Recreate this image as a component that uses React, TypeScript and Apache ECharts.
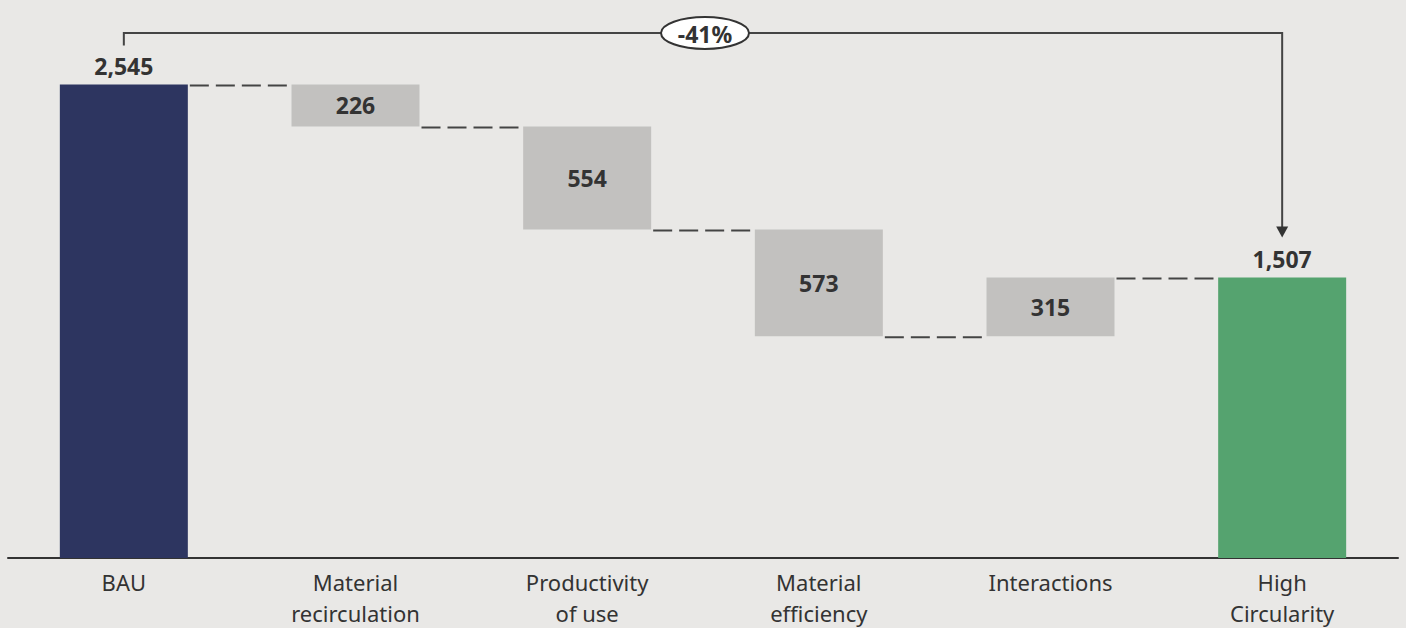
import React, { useEffect, useRef } from "react";
import * as echarts from "echarts";

// Waterfall: BAU total, four contributions, High Circularity total
const categories = [
  "BAU",
  "Material\nrecirculation",
  "Productivity\nof use",
  "Material\nefficiency",
  "Interactions",
  "High\nCircularity",
];
const startTotal = 2545;
const changes = [-226, -554, -573, 315];
const endTotal = 1507;
const changeLabel = "-41%";

const NAVY = "#2d3560";
const GREEN = "#55a36f";
const GREY = "#c2c1bf";
const TEXT = "#333333";
const BG = "#e9e8e6";
const FONT = "'Noto Sans', sans-serif";
const BAR_W = 128;

export default function App() {
  const ref = useRef<HTMLDivElement>(null);

  useEffect(() => {
    if (!ref.current) return;
    document.body.style.background = BG;
    const chart = echarts.init(ref.current, undefined, { renderer: "svg" });

    // running levels after each step (the connector heights)
    const levels: number[] = [startTotal];
    changes.forEach((c) => levels.push(levels[levels.length - 1] + c));

    const base: number[] = [0];
    const size: number[] = [startTotal];
    changes.forEach((c, i) => {
      base.push(Math.min(levels[i], levels[i + 1]));
      size.push(Math.abs(c));
    });
    base.push(0);
    size.push(endTotal);

    const last = categories.length - 1;
    const visibleData = size.map((v, i) => {
      const isTotal = i === 0 || i === last;
      return {
        value: v,
        itemStyle: { color: i === 0 ? NAVY : i === last ? GREEN : GREY },
        label: isTotal
          ? { position: "top", distance: 7 }
          : { position: "inside" },
      };
    });

    chart.setOption({
      animation: false,
      backgroundColor: BG,
      grid: { left: 8, right: 8, top: 37, bottom: 70, outerBoundsMode: "none", containLabel: false },
      xAxis: {
        type: "category",
        data: categories,
        axisTick: { show: false },
        axisLine: { lineStyle: { color: TEXT, width: 2 } },
        axisLabel: {
          color: TEXT,
          fontFamily: FONT,
          fontSize: 22,
          lineHeight: 31,
          margin: 8,
          interval: 0,
        },
      },
      yAxis: {
        type: "value",
        min: 0,
        max: 2800,
        show: false,
        splitLine: { show: false },
      },
      series: [
        {
          type: "bar",
          stack: "w",
          barWidth: BAR_W,
          data: base,
          itemStyle: { color: "transparent" },
          silent: true,
        },
        {
          type: "bar",
          stack: "w",
          barWidth: BAR_W,
          data: visibleData,
          label: {
            show: true,
            color: TEXT,
            fontFamily: FONT,
            fontWeight: "bold",
            fontSize: 23,
            formatter: (p: any) => Number(p.value).toLocaleString("en-US"),
          },
        },
        {
          type: "custom",
          data: levels.map((v, i) => [i, v]),
          encode: { x: 0, y: 1 },
          silent: true,
          z: 1,
          renderItem: (params: any, api: any) => {
            const i = api.value(0);
            const v = api.value(1);
            const a = api.coord([i, v]);
            const b = api.coord([i + 1, v]);
            return {
              type: "line",
              shape: { x1: a[0] + BAR_W / 2 + 2, y1: a[1] + 1, x2: b[0] - BAR_W / 2, y2: b[1] + 1 },
              style: { stroke: "#444444", lineWidth: 2, lineDash: [19, 7] },
            };
          },
        },
      ],
    });

    // bracket from BAU to High Circularity with the overall change
    const p0 = chart.convertToPixel({ gridIndex: 0 }, [0, startTotal]) as number[];
    const p1 = chart.convertToPixel({ gridIndex: 0 }, [last, endTotal]) as number[];
    const topY = 33;
    const legBottom = p0[1] - 39;
    const tipY = p1[1] - 40;
    const midX = (p0[0] + p1[0]) / 2 + 2;
    chart.setOption({
      graphic: [
        {
          type: "polyline",
          shape: {
            points: [
              [p0[0], legBottom],
              [p0[0], topY],
              [p1[0], topY],
              [p1[0], tipY - 10],
            ],
          },
          style: { stroke: "#444444", lineWidth: 2, fill: null },
        },
        {
          type: "polygon",
          shape: {
            points: [
              [p1[0] - 6, tipY - 11],
              [p1[0] + 6, tipY - 11],
              [p1[0], tipY],
            ],
          },
          style: { fill: "#333333" },
        },
        {
          type: "ellipse",
          shape: { cx: midX, cy: topY, rx: 44, ry: 16 },
          style: { fill: "#ffffff", stroke: TEXT, lineWidth: 2 },
        },
        {
          type: "text",
          x: midX,
          y: topY + 1,
          style: {
            text: changeLabel,
            fill: TEXT,
            font: `bold 23px ${FONT}`,
            align: "center",
            verticalAlign: "middle",
          },
        },
      ],
    });

    return () => chart.dispose();
  }, []);

  return (
    <div
      ref={ref}
      style={{ position: "absolute", left: 0, top: 0, width: 1406, height: 628 }}
    />
  );
}
